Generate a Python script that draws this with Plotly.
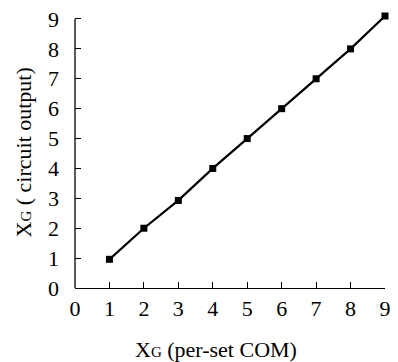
import plotly.graph_objects as go

x_com = [1, 2, 3, 4, 5, 6, 7, 8, 9]
y_circuit = [0.96, 2.0, 2.93, 4.0, 5.0, 6.0, 7.0, 8.0, 9.1]
tick_vals = [0, 1, 2, 3, 4, 5, 6, 7, 8, 9]

FONT = "Liberation Serif"
fig = go.Figure()
fig.add_trace(go.Scatter(
    x=x_com, y=y_circuit, mode="lines+markers",
    line=dict(color="black", width=2.2),
    marker=dict(symbol="square", size=7, color="black"),
    showlegend=False, cliponaxis=False,
))

axis_common = dict(
    tickvals=tick_vals, ticks="inside", ticklen=6, tickwidth=1.3,
    tickcolor="black", linecolor="black", linewidth=1.3,
    showgrid=False, zeroline=False, tickfont=dict(family=FONT, size=22, color="black"),
    mirror=False,
)
fig.update_xaxes(**axis_common, range=[0, 9], showline=True, ticklabelstandoff=0)
fig.update_yaxes(**axis_common, range=[0, 9 + 4 / 30], showline=False, ticklabelstandoff=15)

# y-axis line drawn only up to the last tick (9)
fig.add_shape(type="line", xref="paper", yref="y", x0=0, x1=0, y0=0, y1=tick_vals[-1],
              line=dict(color="black", width=1.3))

fig.update_layout(
    width=398, height=362,
    margin=dict(l=75, r=7, t=14, b=74),
    paper_bgcolor="white", plot_bgcolor="white",
    annotations=[
        dict(text="X<span style='font-size:15px'>G</span> (per-set COM)", xref="paper", yref="paper",
             x=(219 - 75) / 316, y=-(350 - 288) / 274, showarrow=False,
             font=dict(family=FONT, size=22, color="black"), xanchor="center", yanchor="middle"),
        dict(text="X<span style='font-size:15px'>G</span> ( circuit output)", xref="paper", yref="paper",
             x=-(75 - 22) / 316, y=(288 - 152) / 274, showarrow=False, textangle=-90,
             font=dict(family=FONT, size=22, color="black"), xanchor="center", yanchor="middle"),
    ],
)
fig.write_html("out.html")
